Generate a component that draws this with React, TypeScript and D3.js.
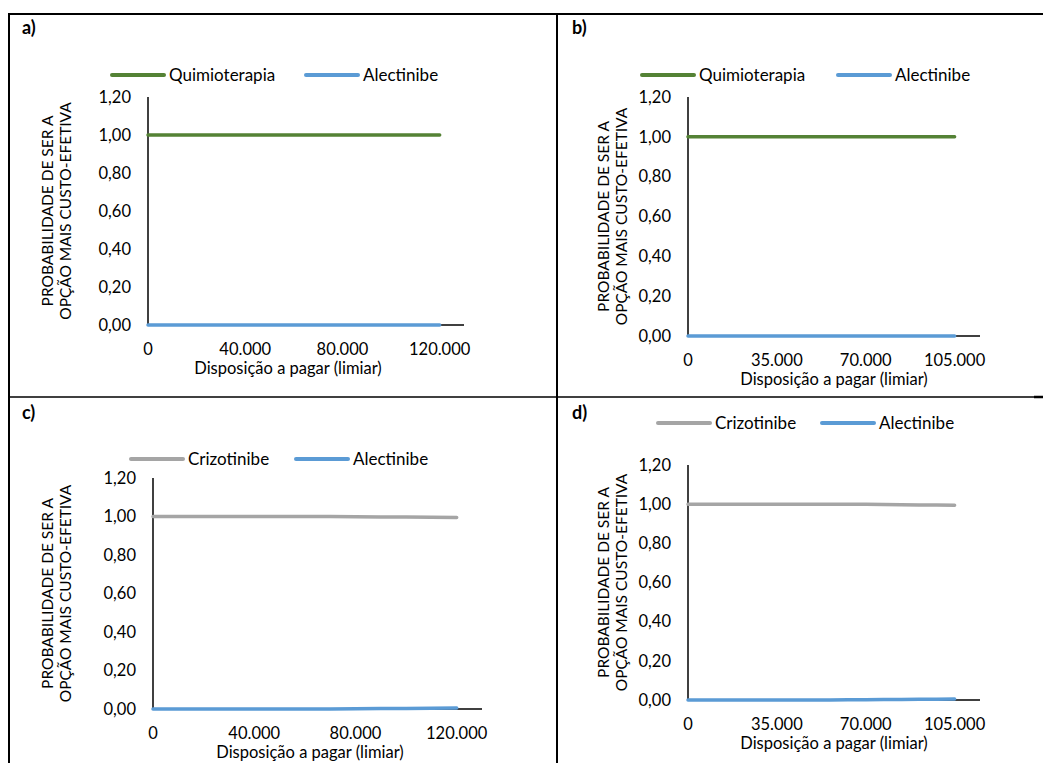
import React from "react";
import * as d3 from "d3";

// ---------- DATA ----------
const thresholdsA = [0, 10000, 20000, 30000, 40000, 50000, 60000, 70000, 80000, 90000, 100000, 110000, 120000];
const quimioterapiaA = [1, 1, 1, 1, 1, 1, 1, 1, 1, 1, 1, 1, 1];
const alectinibeA = [0, 0, 0, 0, 0, 0, 0, 0, 0, 0, 0, 0, 0];

const thresholdsB = [0, 7000, 14000, 21000, 28000, 35000, 42000, 49000, 56000, 63000, 70000, 77000, 84000, 91000, 98000, 105000];
const quimioterapiaB = [1, 1, 1, 1, 1, 1, 1, 1, 1, 1, 1, 1, 1, 1, 1, 1];
const alectinibeB = [0, 0, 0, 0, 0, 0, 0, 0, 0, 0, 0, 0, 0, 0, 0, 0];

const thresholdsC = [0, 10000, 20000, 30000, 40000, 50000, 60000, 70000, 80000, 90000, 100000, 110000, 120000];
const crizotinibeC = [1, 1, 1, 1, 1, 1, 1, 1, 0.999, 0.998, 0.997, 0.996, 0.995];
const alectinibeC = [0, 0, 0, 0, 0, 0, 0, 0, 0.001, 0.002, 0.003, 0.004, 0.005];

const thresholdsD = [0, 7000, 14000, 21000, 28000, 35000, 42000, 49000, 56000, 63000, 70000, 77000, 84000, 91000, 98000, 105000];
const crizotinibeD = [1, 1, 1, 1, 1, 1, 1, 1, 1, 0.999, 0.999, 0.998, 0.997, 0.996, 0.996, 0.995];
const alectinibeD = [0, 0, 0, 0, 0, 0, 0, 0, 0, 0.001, 0.001, 0.002, 0.003, 0.004, 0.004, 0.005];

const yTicks = [0, 0.2, 0.4, 0.6, 0.8, 1.0, 1.2];
const xTicksAC = [0, 40000, 80000, 120000];
const xTicksBD = [0, 35000, 70000, 105000];
const xAxisMaxAC = 130000;
const xAxisMaxBD = 115000;

const panelLabels = ["a)", "b)", "c)", "d)"];
const yTitleLines = ["PROBABILIDADE DE SER A", "OPÇÃO MAIS CUSTO-EFETIVA"];
const xTitle = "Disposição a pagar (limiar)";

// ---------- STYLE ----------
const FONT = "Lato, 'Open Sans', sans-serif";
const GREEN = "#548235";
const BLUE = "#5B9BD5";
const GRAY = "#A5A5A5";

const fmtY = (v: number) => v.toFixed(2).replace(".", ",");
const fmtX = (v: number) => (v === 0 ? "0" : d3.format(",")(v).replace(/,/g, "."));

type Series = { name: string; color: string; values: number[] };
type Cfg = {
  label: string;
  labelX: number;
  labelY: number;
  xs: number[];
  series: Series[];
  xTicks: number[];
  xMax: number;
  left: number;
  right: number;
  top: number;
  bottom: number;
  legendX: number;
  legendY: number;
  legendStep: number;
  yTitleX: number;
  xTitleX: number;
};

const panels: Cfg[] = [
  {
    label: panelLabels[0], labelX: 22, labelY: 34,
    xs: thresholdsA,
    series: [
      { name: "Quimioterapia", color: GREEN, values: quimioterapiaA },
      { name: "Alectinibe", color: BLUE, values: alectinibeA },
    ],
    xTicks: xTicksAC, xMax: xAxisMaxAC,
    left: 148, right: 464, top: 97, bottom: 325,
    legendX: 112, legendY: 75, legendStep: 194, yTitleX: 57, xTitleX: 288,
  },
  {
    label: panelLabels[1], labelX: 572, labelY: 34,
    xs: thresholdsB,
    series: [
      { name: "Quimioterapia", color: GREEN, values: quimioterapiaB },
      { name: "Alectinibe", color: BLUE, values: alectinibeB },
    ],
    xTicks: xTicksBD, xMax: xAxisMaxBD,
    left: 688, right: 980, top: 97, bottom: 336,
    legendX: 642, legendY: 75, legendStep: 196, yTitleX: 613, xTitleX: 834,
  },
  {
    label: panelLabels[2], labelX: 22, labelY: 419,
    xs: thresholdsC,
    series: [
      { name: "Crizotinibe", color: GRAY, values: crizotinibeC },
      { name: "Alectinibe", color: BLUE, values: alectinibeC },
    ],
    xTicks: xTicksAC, xMax: xAxisMaxAC,
    left: 153, right: 482, top: 478, bottom: 709,
    legendX: 131, legendY: 459, legendStep: 165, yTitleX: 57, xTitleX: 310,
  },
  {
    label: panelLabels[3], labelX: 572, labelY: 419,
    xs: thresholdsD,
    series: [
      { name: "Crizotinibe", color: GRAY, values: crizotinibeD },
      { name: "Alectinibe", color: BLUE, values: alectinibeD },
    ],
    xTicks: xTicksBD, xMax: xAxisMaxBD,
    left: 688, right: 980, top: 465, bottom: 700,
    legendX: 658, legendY: 423, legendStep: 164, yTitleX: 613, xTitleX: 834,
  },
];

function Panel({ cfg }: { cfg: Cfg }) {
  const x = d3.scaleLinear().domain([0, cfg.xMax]).range([cfg.left, cfg.right]);
  const y = d3.scaleLinear().domain([0, 1.2]).range([cfg.bottom, cfg.top]);
  const line = d3
    .line<number>()
    .x((_, i) => x(cfg.xs[i]))
    .y((d) => y(d));

  const legendLineLen = 52;
  const legendGap = 5;
  const yMid = (cfg.top + cfg.bottom) / 2;

  return (
    <g>
      <text x={cfg.labelX} y={cfg.labelY} fontSize={18} fontWeight="bold" fontFamily={FONT} fill="#000">
        {cfg.label}
      </text>

      {/* legend */}
      {cfg.series.map((s, i) => {
        const lx = cfg.legendX + i * cfg.legendStep;
        return (
          <g key={s.name}>
            <line x1={lx} x2={lx + legendLineLen} y1={cfg.legendY} y2={cfg.legendY} stroke={s.color} strokeWidth={4} strokeLinecap="round" />
            <text x={lx + legendLineLen + legendGap} y={cfg.legendY} dy="0.35em" fontSize={17} fontFamily={FONT} fill="#000">
              {s.name}
            </text>
          </g>
        );
      })}

      {/* y tick labels */}
      {yTicks.map((t) => (
        <text key={t} x={cfg.left - 17} y={y(t)} dy="0.35em" textAnchor="end" fontSize={16.5} fontFamily={FONT} fill="#000">
          {fmtY(t)}
        </text>
      ))}

      {/* x tick labels */}
      {cfg.xTicks.map((t) => (
        <text key={t} x={x(t)} y={cfg.bottom + 24} dy="0.35em" textAnchor="middle" fontSize={16.5} fontFamily={FONT} fill="#000">
          {fmtX(t)}
        </text>
      ))}

      {/* x title */}
      <text x={cfg.xTitleX} y={cfg.bottom + 43} dy="0.35em" textAnchor="middle" fontSize={16.5} fontFamily={FONT} fill="#000">
        {xTitle}
      </text>

      {/* y title */}
      <g transform={`translate(${cfg.yTitleX},${yMid}) rotate(-90)`}>
        {yTitleLines.map((l, i) => (
          <text key={l} x={0} y={(i - 0.5) * 18} dy="0.35em" textAnchor="middle" fontSize={15.5} fontFamily={FONT} fill="#000">
            {l}
          </text>
        ))}
      </g>

      {/* axes */}
      <line x1={cfg.left} x2={cfg.left} y1={cfg.top} y2={cfg.bottom} stroke="#000" strokeWidth={1.5} />
      <line x1={cfg.left} x2={cfg.right} y1={cfg.bottom} y2={cfg.bottom} stroke="#000" strokeWidth={1.5} />

      {/* series */}
      {cfg.series.map((s) => (
        <path key={s.name} d={line(s.values) || ""} fill="none" stroke={s.color} strokeWidth={3.5} strokeLinecap="round" strokeLinejoin="round" />
      ))}
    </g>
  );
}

export default function App() {
  const W = 1043;
  const H = 763;
  return (
    <svg width={W} height={H} style={{ position: "absolute", left: 0, top: 0, display: "block", background: "#fff" }}>
      <rect width={W} height={H} fill="#fff" />
      {/* table borders */}
      <line x1={8} x2={W} y1={14} y2={14} stroke="#000" strokeWidth={2} />
      <line x1={9} x2={9} y1={13} y2={H} stroke="#000" strokeWidth={2} />
      <line x1={557} x2={557} y1={13} y2={H} stroke="#000" strokeWidth={2} />
      <line x1={8} x2={1035} y1={397} y2={397} stroke="#000" strokeWidth={1.5} />
      <line x1={1034} x2={W} y1={397} y2={397} stroke="#000" strokeWidth={2.5} />
      {panels.map((p) => (
        <Panel key={p.label} cfg={p} />
      ))}
    </svg>
  );
}
